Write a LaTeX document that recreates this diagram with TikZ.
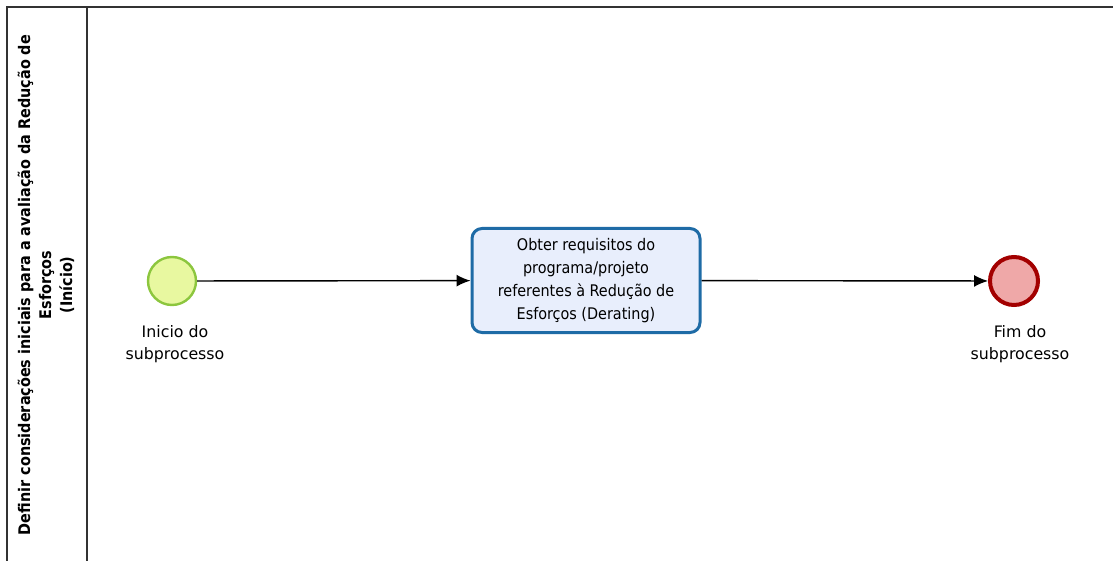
\documentclass[tikz,border=0pt]{standalone}
\usepackage{fontspec}
\setmainfont{DejaVu Sans}
\newfontfamily\cond{DejaVu Sans Condensed}
\usetikzlibrary{arrows.meta,positioning}
\definecolor{StartFill}{RGB}{232,248,160}
\definecolor{StartLine}{RGB}{140,198,62}
\definecolor{EndFill}{RGB}{239,168,168}
\definecolor{EndLine}{RGB}{163,0,0}
\definecolor{TaskFill}{RGB}{232,238,252}
\definecolor{TaskLine}{RGB}{30,107,166}
\definecolor{PoolLine}{RGB}{50,50,50}

\begin{document}
\begin{tikzpicture}[x=0.5pt,y=-0.5pt,
  ev/.style={circle,minimum size=24pt,inner sep=0pt},
  lbl/.style={font=\fontsize{7.9}{11}\selectfont,align=center},
  task/.style={rectangle,rounded corners=5pt,minimum width=114pt,minimum height=52pt,fill=TaskFill,draw=TaskLine,line width=1.5pt,font=\cond\fontsize{8}{11.5}\selectfont,align=center},
  flow/.style={-{Latex[length=7pt,width=6pt]},line width=0.7pt,black}
]
  \useasboundingbox (0,0) rectangle (1113,561);
  % pool and lane
  \draw[line width=1pt,PoolLine] (7,561) -- (7,7) -- (1113,7);
  \draw[line width=1pt,PoolLine] (87,7) -- (87,561);
  \node[rotate=90,align=center,font=\cond\bfseries\fontsize{8}{10.5}\selectfont] (lane) at (46,285) {Definir considerações iniciais para a avaliação da Redução de\\Esforços\\(Início)};
  % events and task
  \node[ev,fill=StartFill,draw=StartLine,line width=1.2pt] (inicio) at (172,281) {};
  \node[lbl] (inicioL) at (175,344) {Inicio do\\subprocesso};
  \node[task] (obter) at (586,280.5) {Obter requisitos do\\programa/projeto\\referentes à Redução de\\Esforços (Derating)};
  \node[ev,fill=EndFill,draw=EndLine,line width=2pt] (fim) at (1014,281) {};
  \node[lbl] (fimL) at (1020,344) {Fim do\\subprocesso};
  % flows
  \draw[flow] (inicio) -- (obter);
  \draw[flow] (obter) -- (fim);
\end{tikzpicture}
\end{document}
